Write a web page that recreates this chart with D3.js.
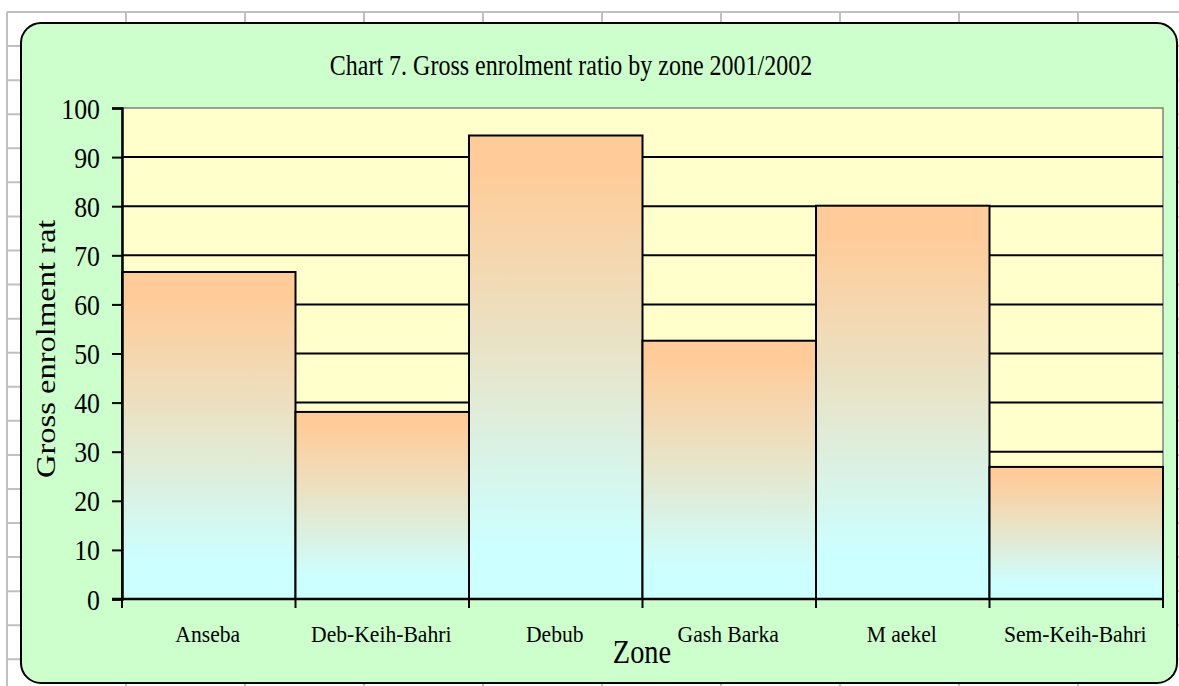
<!DOCTYPE html>
<html>
<head>
<meta charset="utf-8">
<script src="https://cdn.jsdelivr.net/npm/d3@7"></script>
<style>
  html, body { margin: 0; padding: 0; background: #ffffff; }
  svg { display: block; }
  text { font-family: 'Liberation Serif', 'Times New Roman', serif; fill: #000; }
</style>
</head>
<body>
<div id="chart-area"></div>
<script>
// chart data
var zones = ['Anseba', 'Deb-Keih-Bahri', 'Debub', 'Gash Barka', 'M aekel', 'Sem-Keih-Bahri']
var ratios = [66.6, 38.1, 94.4, 52.6, 80.1, 26.9]
var yTicks = [0, 10, 20, 30, 40, 50, 60, 70, 80, 90, 100]
var titleText = 'Chart 7. Gross enrolment ratio by zone 2001/2002'
var yTitleText = 'Gross enrolment ratio'
var xTitleText = 'Zone'

var width = 1179
var height = 686

var plot = { left: 122, right: 1163, top: 108, bottom: 599 }

var svg = d3.select('#chart-area')
  .append('svg')
  .attr('width', width)
  .attr('height', height)

// spreadsheet cells behind the chart
var sheet = svg.append('g').attr('class', 'sheet')
d3.range(7, width, 119).forEach(function (x) {
  sheet.append('line')
    .attr('x1', x).attr('x2', x)
    .attr('y1', 12).attr('y2', height)
    .attr('stroke', '#c0c0c0')
    .attr('stroke-width', 2)
})
d3.range(12, height, 34.07).forEach(function (y) {
  sheet.append('line')
    .attr('x1', 7).attr('x2', width)
    .attr('y1', y).attr('y2', y)
    .attr('stroke', '#c0c0c0')
    .attr('stroke-width', 2)
})

// chart area
svg.append('rect')
  .attr('x', 21)
  .attr('y', 23)
  .attr('width', 1156)
  .attr('height', 660)
  .attr('rx', 20)
  .attr('ry', 20)
  .attr('fill', '#ccffcc')
  .attr('stroke', '#000')
  .attr('stroke-width', 2)

var defs = svg.append('defs')
var grad = defs.append('linearGradient')
  .attr('id', 'bar-fill')
  .attr('x1', 0).attr('y1', 0)
  .attr('x2', 0).attr('y2', 1)
grad.append('stop').attr('offset', '8%').attr('stop-color', '#ffcc99')
grad.append('stop').attr('offset', '50%').attr('stop-color', '#e6e6cc')
grad.append('stop').attr('offset', '88%').attr('stop-color', '#ccffff')

defs.append('clipPath')
  .attr('id', 'ytitle-clip')
  .append('rect')
  .attr('x', 0).attr('y', 220)
  .attr('width', 120).attr('height', 400)

var x = d3.scaleBand()
  .domain(zones)
  .range([plot.left, plot.right])
  .padding(0)

var y = d3.scaleLinear()
  .domain([0, 100])
  .range([plot.bottom, plot.top])

// plot area
svg.append('rect')
  .attr('x', plot.left)
  .attr('y', plot.top)
  .attr('width', plot.right - plot.left)
  .attr('height', plot.bottom - plot.top)
  .attr('fill', '#ffffcc')
  .attr('stroke', '#808080')
  .attr('stroke-width', 1.5)

// gridlines
svg.append('g')
  .selectAll('line')
  .data(yTicks.filter(function (t) { return t > 0 && t < 100 }))
  .enter().append('line')
  .attr('x1', plot.left)
  .attr('x2', plot.right)
  .attr('y1', function (d) { return y(d) })
  .attr('y2', function (d) { return y(d) })
  .attr('stroke', '#000')
  .attr('stroke-width', 2)

// bars
svg.append('g')
  .selectAll('rect')
  .data(ratios)
  .enter().append('rect')
  .attr('x', function (d, i) { return x(zones[i]) })
  .attr('y', function (d) { return y(d) })
  .attr('width', x.bandwidth())
  .attr('height', function (d) { return y(0) - y(d) })
  .attr('fill', 'url(#bar-fill)')
  .attr('stroke', '#000')
  .attr('stroke-width', 2)

// y axis
var yAxis = svg.append('g')
  .attr('transform', 'translate(' + plot.left + ',0)')
  .call(d3.axisLeft(y).tickValues(yTicks).tickSize(10).tickFormat(''))
yAxis.select('.domain').attr('stroke-width', 2.5)
yAxis.selectAll('.tick line').attr('stroke-width', 2)

svg.append('g')
  .selectAll('text')
  .data(yTicks)
  .enter().append('text')
  .attr('transform', function (d) { return 'translate(100,' + (y(d) + 10.5) + ') scale(0.86,1)' })
  .attr('text-anchor', 'end')
  .style('font-size', '30px')
  .text(function (d) { return d })

// x axis, ticks on category edges
var edges = zones.map(function (z) { return x(z) }).concat([plot.right])
svg.append('line')
  .attr('x1', plot.left - 10).attr('x2', plot.right)
  .attr('y1', plot.bottom).attr('y2', plot.bottom)
  .attr('stroke', '#000')
  .attr('stroke-width', 2.5)
svg.append('g')
  .selectAll('line')
  .data(edges)
  .enter().append('line')
  .attr('x1', function (d) { return d })
  .attr('x2', function (d) { return d })
  .attr('y1', plot.bottom)
  .attr('y2', plot.bottom + 9)
  .attr('stroke', '#000')
  .attr('stroke-width', 2)

svg.append('g')
  .selectAll('text')
  .data(zones)
  .enter().append('text')
  .attr('transform', function (d) {
    return 'translate(' + (x(d) + x.bandwidth() / 2 - 1) + ',642) scale(0.9,1)'
  })
  .attr('text-anchor', 'middle')
  .style('font-size', '24px')
  .text(function (d) { return d })

// titles
svg.append('text')
  .attr('transform', 'translate(571,74.5) scale(0.8,1)')
  .attr('text-anchor', 'middle')
  .style('font-size', '30px')
  .text(titleText)

svg.append('text')
  .attr('transform', 'translate(642,663) scale(0.86,1)')
  .attr('text-anchor', 'middle')
  .style('font-size', '33px')
  .text(xTitleText)

svg.append('g')
  .attr('clip-path', 'url(#ytitle-clip)')
  .append('text')
  .attr('transform', 'translate(55,478) rotate(-90) scale(1.05,0.9)')
  .attr('text-anchor', 'start')
  .style('font-size', '31px')
  .text(yTitleText)
</script>
</body>
</html>
